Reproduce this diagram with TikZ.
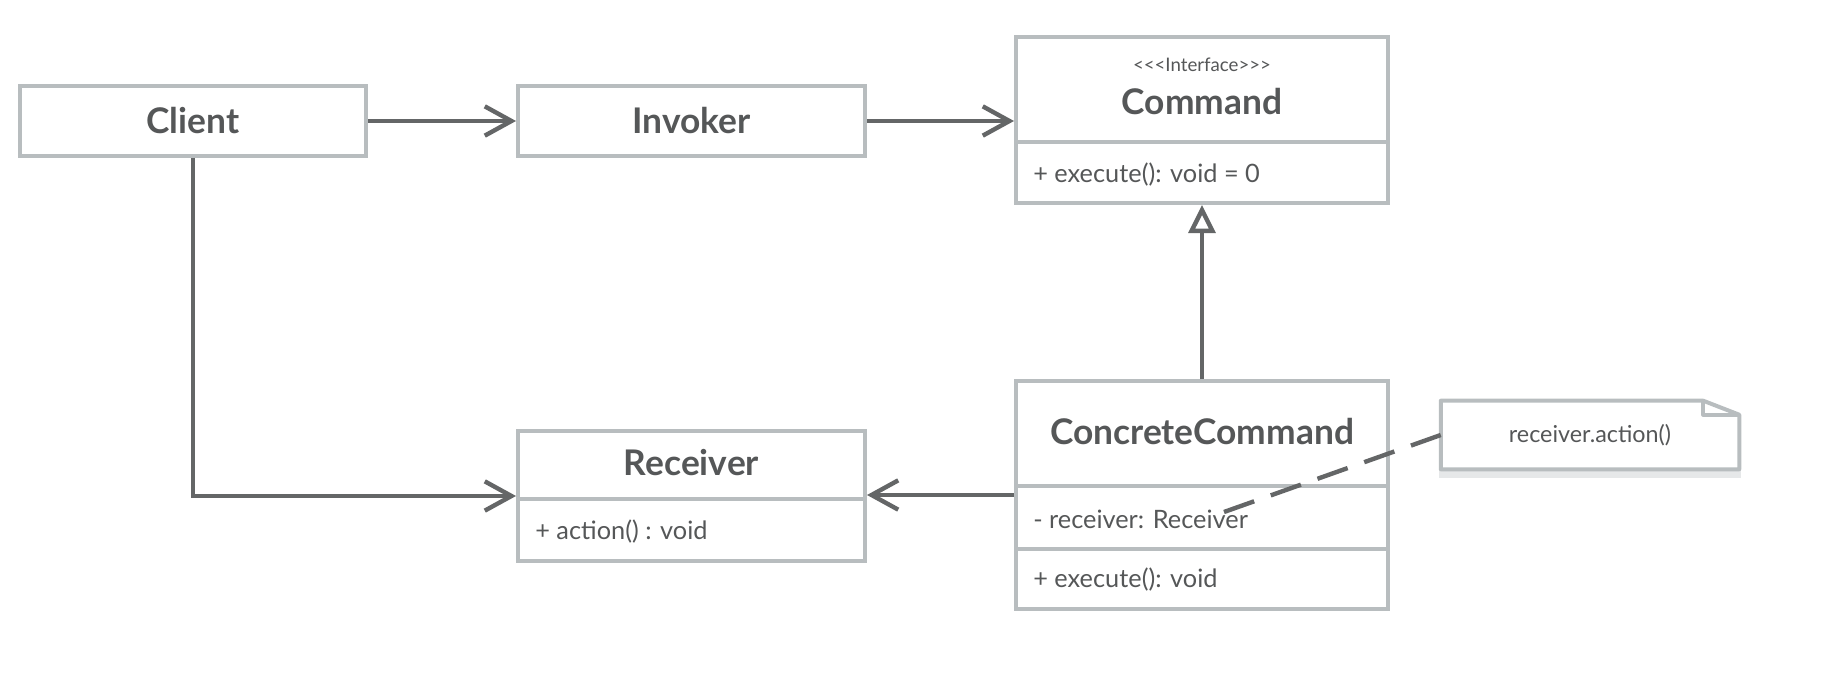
\documentclass[tikz,border=0pt]{standalone}
\usepackage{fontspec}
\setmainfont{Lato}
\usetikzlibrary{arrows.meta}
\definecolor{boxgray}{HTML}{B8BDBF}
\definecolor{linegray}{HTML}{646667}
\definecolor{textgray}{HTML}{555758}
\definecolor{shadowgray}{HTML}{E6E8E9}
\tikzset{
  box/.style={draw=boxgray, line width=3pt, fill=white, inner sep=0pt, text=textgray},
  boxline/.style={draw=boxgray, line width=3pt},
  titlefont/.style={font=\bfseries\fontsize{26.5}{30}\selectfont},
  title/.style={titlefont, text=textgray, inner sep=0pt},
  member/.style={font=\fontsize{19}{22}\selectfont, text=textgray, anchor=west, inner sep=0pt},
  stereo/.style={font=\fontsize{14}{16}\selectfont, text=textgray, inner sep=0pt},
  notefont/.style={font=\fontsize{17.5}{20}\selectfont},
  conn/.style={draw=linegray, line width=3.3pt},
  arr/.style={conn, -{Straight Barb[length=20pt,width=22pt]}},
  realize/.style={conn, -{Triangle[open,length=21pt,width=20pt]}},
  notelink/.style={draw=linegray, line width=3.3pt, dash pattern=on 24pt off 13.2pt},
}
\begin{document}
\begin{tikzpicture}[x=0.75pt,y=-0.75pt]
\useasboundingbox (0,0) rectangle (1824,688);
% boxes
\node[box, minimum width=259.5pt, minimum height=52.5pt, titlefont] (client) at (193,121) {Client};
\node[box, minimum width=260.25pt, minimum height=52.5pt, titlefont] (invoker) at (691.5,121) {Invoker};
\node[box, minimum width=279pt, minimum height=124.5pt] (cmd) at (1202,120) {};
\node[box, minimum width=279pt, minimum height=171pt] (cc) at (1202,495) {};
\node[box, minimum width=260.25pt, minimum height=97.5pt] (rcv) at (691.5,496) {};
% compartments
\draw[boxline] (cmd.west |- 0,142) -- (cmd.east |- 0,142);
\draw[boxline] (cc.west |- 0,486) -- (cc.east |- 0,486);
\draw[boxline] (cc.west |- 0,549) -- (cc.east |- 0,549);
\draw[boxline] (rcv.west |- 0,499) -- (rcv.east |- 0,499);
% texts
\node[stereo] (cmdstereo) at (1202,65) {<\kern0pt<\kern0pt<Interface>\kern0pt>\kern0pt>};
\node[title] (cmdtitle) at (1202,102) {Command};
\node[member] (cmdop) at (1033,175) {+ execute(): void = 0};
\node[title] (cctitle) at (1202,432) {ConcreteCommand};
\node[member] (ccattr) at (1033,519) {- receiver: Receiver};
\node[member] (ccop) at (1033,580) {+ execute(): void};
\node[title] (rcvtitle) at (691.5,463) {Receiver};
\node[member] (rcvop) at (535,532) {+ action() : void};
% note
\fill[shadowgray] (1439,471) rectangle (1741,478);
\node[minimum width=223.5pt, minimum height=51pt, inner sep=0pt] (note) at (1590,435) {};
\draw[boxline, fill=white, line join=round] (note.north west) -- ([xshift=-27pt]note.north east) -- ([yshift=-10.5pt]note.north east) -- (note.south east) -- (note.south west) -- cycle;
\draw[boxline, line join=round] ([xshift=-27pt]note.north east) -- ([xshift=-27pt,yshift=-10.5pt]note.north east) -- ([yshift=-10.5pt]note.north east);
\node[text=textgray, notefont, inner sep=0pt] (notetext) at (note.center) {receiver.action()};
% connectors
\draw[arr] (client.east) -- (invoker.west);
\draw[arr] (invoker.east) -- (cmd.west |- invoker.east);
\draw[realize] (cc.north) -- (cmd.south);
\draw[arr] (cc.west) -- (rcv.east |- cc.west);
\draw[arr] (client.south) |- (rcv.west);
\coordinate (ccanchor) at (1224,512);
\draw[notelink] (ccanchor) -- (note.west);
\end{tikzpicture}
\end{document}
